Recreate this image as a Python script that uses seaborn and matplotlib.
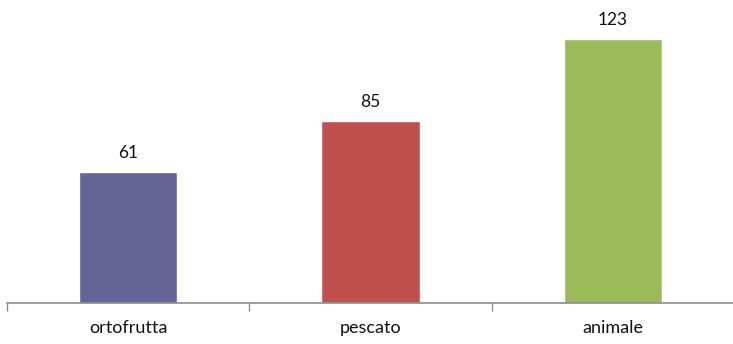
import matplotlib.pyplot as plt
import seaborn as sns
import pandas as pd
from matplotlib.ticker import FixedLocator

categorie = ["ortofrutta", "pescato", "animale"]
valori = [61, 85, 123]
colori = ["#646497", "#C0504D", "#9BBB59"]


def grafico_barre():
    sns.set_theme(style="white")
    plt.rcParams["font.family"] = ["Lato", "DejaVu Sans"]

    df = pd.DataFrame({"categoria": categorie, "valore": valori})

    fig = plt.figure(figsize=(7.33, 3.44), dpi=100)
    ax = fig.add_axes([7 / 733, 41 / 344, 727 / 733, 300 / 344])
    sns.barplot(
        data=df,
        x="categoria",
        y="valore",
        hue="categoria",
        palette=colori,
        width=0.405,
        saturation=1,
        legend=False,
        ax=ax,
    )
    for cont in ax.containers:
        ax.bar_label(cont, padding=8, fontsize=12.5, color="#111111")

    ax.set_xlim(-0.5, 2.5)
    ax.set_ylim(0, 140)
    ax.set_xlabel("")
    ax.set_ylabel("")
    ax.set_yticks([])
    for lato in ["top", "right", "left"]:
        ax.spines[lato].set_visible(False)
    ax.spines["bottom"].set_color("#8c8c8c")
    ax.spines["bottom"].set_linewidth(1.2)

    ax.xaxis.set_minor_locator(FixedLocator([-0.5, 0.5, 1.5, 2.5]))
    ax.tick_params(axis="x", which="minor", bottom=True, length=6, width=1.0,
                   color="#8c8c8c", direction="out")
    ax.tick_params(axis="x", which="major", bottom=True, length=0,
                   labelsize=13, pad=12, labelcolor="#111111")

    fig.savefig("out.png", dpi=100)


grafico_barre()
